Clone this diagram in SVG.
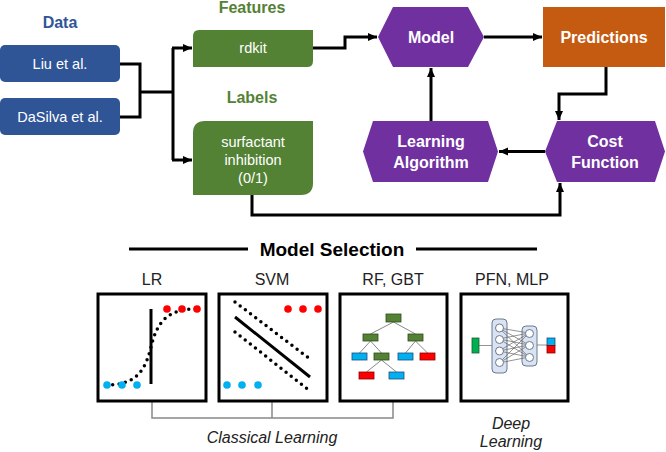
<svg xmlns="http://www.w3.org/2000/svg" width="666" height="452" viewBox="0 0 666 452">
<defs>
<marker id="ah" markerUnits="userSpaceOnUse" markerWidth="10" markerHeight="10" refX="9" refY="5" orient="auto">
<path d="M0,1 L9,5 L0,9 Z" fill="#000"/>
</marker>
<style>
text{font-family:"Liberation Sans",Arial,sans-serif;}
.wt{fill:#fff;font-size:14.5px;text-anchor:middle;}
.wb{fill:#fff;font-size:16px;font-weight:bold;text-anchor:middle;}
.hd{font-size:16px;font-weight:bold;text-anchor:middle;}
.lb{font-size:16px;text-anchor:middle;fill:#222;}
.it{font-size:16px;font-style:italic;text-anchor:middle;fill:#222;}
.blue{fill:#2F5597;}
.green{fill:#548235;}
.purple{fill:#7030A0;}
.conn{fill:none;stroke:#000;stroke-width:3;}
.box{fill:#fff;stroke:#000;stroke-width:3;}
.dot{fill:none;stroke:#000;stroke-width:3.5;stroke-linecap:round;stroke-dasharray:0 6.5;}
.cb{fill:#00B0F0;}
.cr{fill:#FF0000;}
.tg{fill:#548235;stroke:#2d4a1c;stroke-width:0.8;}
.tb{fill:#00B0F0;stroke:#1f4e79;stroke-width:0.8;}
.tr{fill:#FF0000;stroke:#800;stroke-width:0.8;}
.tl{stroke:#888;stroke-width:1;fill:none;}
.col{fill:#DAE3F3;stroke:#6a7a8c;stroke-width:1;}
.neu{fill:#fff;stroke:#6a7a8c;stroke-width:1;}
.nl{stroke:#666;stroke-width:0.7;}
</style>
</defs>
<rect width="666" height="452" fill="#fff"/>

<!-- section labels -->
<text class="hd blue" x="60" y="28" style="fill:#2F5597">Data</text>
<text class="hd" x="252" y="13" style="fill:#548235">Features</text>
<text class="hd" x="252" y="103" style="fill:#548235">Labels</text>

<g id="liu">
<rect x="0" y="45" width="120" height="37" rx="5" class="blue"/>
<text class="wt" x="60" y="69">Liu et al.</text>
</g>
<g id="dasilva">
<rect x="0" y="98" width="120" height="37" rx="5" class="blue"/>
<text class="wt" x="60" y="122">DaSilva et al.</text>
</g>
<g id="rdkit">
<path d="M199,30 H313 V61 Q313,67 307,67 H193 V36 Q193,30 199,30 Z" class="green"/>
<text class="wt" x="253" y="53">rdkit</text>
</g>
<g id="surfactant">
<path d="M205,121 H313 V183 Q313,195 301,195 H193 V133 Q193,121 205,121 Z" class="green"/>
<text class="wt" x="253" y="147">surfactant</text>
<text class="wt" x="253" y="165">inhibition</text>
<text class="wt" x="253" y="183">(0/1)</text>
</g>
<g id="model">
<polygon points="378,37 393,7 468,7 484,37 468,67 393,67" class="purple"/>
<text class="wb" x="431" y="43">Model</text>
</g>
<g id="predictions">
<rect x="543" y="7" width="122" height="60" fill="#C55A11"/>
<text class="wb" x="604" y="43">Predictions</text>
</g>
<g id="learning">
<polygon points="363,151.5 373,121 488,121 498,151.5 488,182 373,182" class="purple"/>
<text class="wb" x="431" y="147">Learning</text>
<text class="wb" x="431" y="168">Algorithm</text>
</g>
<g id="cost">
<polygon points="545,151.5 557,121 655,121 665,151.5 655,182 557,182" class="purple"/>
<text class="wb" x="605" y="147">Cost</text>
<text class="wb" x="605" y="168">Function</text>
</g>

<g id="connectors">
<polyline class="conn" points="120,64 140,64 140,117 120,117"/>
<line class="conn" x1="140" y1="92" x2="173" y2="92"/>
<polyline class="conn" points="173,48 173,160"/>
<line class="conn" x1="172" y1="48" x2="192" y2="48" marker-end="url(#ah)"/>
<line class="conn" x1="172" y1="160" x2="192" y2="160" marker-end="url(#ah)"/>
<polyline class="conn" points="313,48 345,48 345,37 377,37" marker-end="url(#ah)"/>
<line class="conn" x1="484" y1="37" x2="542" y2="37" marker-end="url(#ah)"/>
<polyline class="conn" points="606,67 606,94 559,94 559,120" marker-end="url(#ah)"/>
<line class="conn" x1="545" y1="151.5" x2="499" y2="151.5" marker-end="url(#ah)"/>
<line class="conn" x1="431" y1="121" x2="431" y2="68" marker-end="url(#ah)"/>
<polyline class="conn" points="252,195 252,215 560,215 560,183" marker-end="url(#ah)"/>
</g>

<!-- Model selection -->
<line x1="129" y1="249" x2="248" y2="249" stroke="#000" stroke-width="3"/>
<line x1="416" y1="249" x2="537" y2="249" stroke="#000" stroke-width="3"/>
<text x="332" y="256" style="font-size:19px;font-weight:bold;text-anchor:middle">Model Selection</text>

<text class="lb" x="152" y="285">LR</text>
<text class="lb" x="272" y="285">SVM</text>
<text class="lb" x="393" y="285">RF, GBT</text>
<text class="lb" x="512" y="285">PFN, MLP</text>

<g id="bracket">
<polyline points="152,401 152,418 393,418 393,401" fill="none" stroke="#888" stroke-width="1.5"/>
<line x1="272" y1="401" x2="272" y2="418" stroke="#888" stroke-width="1.5"/>
</g>

<g id="lr">
<rect x="98" y="294" width="108" height="107" class="box"/>
<path class="dot" d="M106,385 C135,385 145,372 151,347 C157,322 167,309 197,309"/>
<line x1="151" y1="309" x2="151" y2="384" stroke="#000" stroke-width="3"/>
<circle class="cb" cx="107" cy="385" r="3.8"/>
<circle class="cb" cx="122" cy="385" r="3.8"/>
<circle class="cb" cx="137" cy="385" r="3.8"/>
<circle class="cr" cx="167" cy="309" r="3.8"/>
<circle class="cr" cx="182" cy="309" r="3.8"/>
<circle class="cr" cx="197" cy="309" r="3.8"/>
</g>

<g id="svm">
<rect x="219" y="294" width="108" height="107" class="box"/>
<line x1="235" y1="317" x2="310" y2="377" stroke="#000" stroke-width="3"/>
<line class="dot" x1="235" y1="302" x2="310" y2="359"/>
<line class="dot" x1="235" y1="332" x2="310" y2="391"/>
<circle class="cr" cx="288" cy="309" r="3.8"/>
<circle class="cr" cx="303" cy="309" r="3.8"/>
<circle class="cr" cx="318" cy="309" r="3.8"/>
<circle class="cb" cx="227" cy="385" r="3.8"/>
<circle class="cb" cx="242" cy="385" r="3.8"/>
<circle class="cb" cx="258" cy="385" r="3.8"/>
</g>

<g id="tree">
<rect x="340" y="294" width="107" height="107" class="box"/>
<line class="tl" x1="393.5" y1="322" x2="370.5" y2="334"/>
<line class="tl" x1="393.5" y1="322" x2="415.5" y2="334"/>
<line class="tl" x1="370.5" y1="341" x2="359.5" y2="353"/>
<line class="tl" x1="370.5" y1="341" x2="381.5" y2="353"/>
<line class="tl" x1="415.5" y1="341" x2="405.5" y2="353"/>
<line class="tl" x1="415.5" y1="341" x2="427.5" y2="353"/>
<line class="tl" x1="381.5" y1="360" x2="366.5" y2="372"/>
<line class="tl" x1="381.5" y1="360" x2="396.5" y2="372"/>
<rect class="tg" x="386" y="314" width="15" height="8"/>
<rect class="tg" x="363" y="334" width="15" height="7"/>
<rect class="tg" x="408" y="334" width="15" height="7"/>
<rect class="tb" x="352" y="353" width="15" height="7"/>
<rect class="tg" x="374" y="353" width="15" height="7"/>
<rect class="tb" x="398" y="353" width="15" height="7"/>
<rect class="tr" x="420" y="353" width="15" height="7"/>
<rect class="tr" x="359" y="372" width="15" height="7"/>
<rect class="tb" x="389" y="372" width="15" height="7"/>
</g>

<g id="nn">
<rect x="461" y="294" width="107" height="107" class="box"/>
<line class="nl" x1="479" y1="345.5" x2="492" y2="345.5"/>
<line class="nl" x1="537" y1="345" x2="547" y2="345"/>
<rect class="col" x="492" y="319" width="15" height="54" rx="4"/>
<rect class="col" x="522" y="326" width="15" height="40" rx="4"/>
<g class="nl">
<line x1="499" y1="328" x2="529" y2="333"/><line x1="499" y1="328" x2="529" y2="345"/><line x1="499" y1="328" x2="529" y2="357"/>
<line x1="499" y1="339" x2="529" y2="333"/><line x1="499" y1="339" x2="529" y2="345"/><line x1="499" y1="339" x2="529" y2="357"/>
<line x1="499" y1="351" x2="529" y2="333"/><line x1="499" y1="351" x2="529" y2="345"/><line x1="499" y1="351" x2="529" y2="357"/>
<line x1="499" y1="363" x2="529" y2="333"/><line x1="499" y1="363" x2="529" y2="345"/><line x1="499" y1="363" x2="529" y2="357"/>
</g>
<circle class="neu" cx="499.5" cy="328" r="4"/>
<circle class="neu" cx="499.5" cy="339.5" r="4"/>
<circle class="neu" cx="499.5" cy="351" r="4"/>
<circle class="neu" cx="499.5" cy="362.5" r="4"/>
<circle class="neu" cx="529.5" cy="333.5" r="4"/>
<circle class="neu" cx="529.5" cy="345.5" r="4"/>
<circle class="neu" cx="529.5" cy="357.5" r="4"/>
<rect x="472" y="338" width="7" height="15" fill="#00B050" stroke="#1e5e2e" stroke-width="0.8"/>
<rect x="547" y="338" width="8" height="7.5" fill="#00B0F0" stroke="#1f4e79" stroke-width="0.8"/>
<rect x="547" y="345.5" width="8" height="7.5" fill="#FF0000" stroke="#800" stroke-width="0.8"/>
</g>

<text class="it" x="272" y="443">Classical Learning</text>
<text class="it" x="511" y="429">Deep</text>
<text class="it" x="511" y="447">Learning</text>
</svg>
